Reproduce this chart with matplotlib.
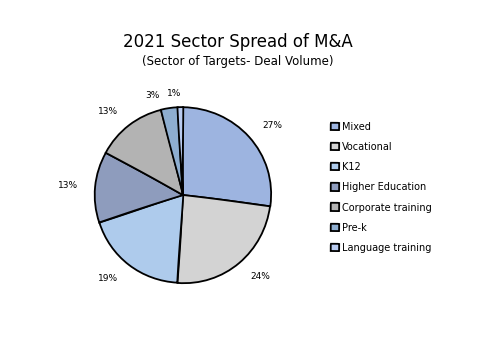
import matplotlib.pyplot as plt

sectors = ["Mixed", "Vocational", "K12", "Higher Education",
           "Corporate training", "Pre-k", "Language training"]
shares = [27, 24, 19, 13, 13, 3, 1]
colors = ["#9db4e0", "#d3d3d3", "#aecbec", "#8e9cbd", "#b3b3b3", "#8eaed0", "#b9cbf0"]

plt.xkcd(scale=0.3, length=150, randomness=1)
plt.rcParams['font.family'] = ['DejaVu Sans']
plt.rcParams['path.effects'] = []

fig = plt.figure(figsize=(5, 3.53), dpi=100)
ax = fig.add_axes([0.19, 0.198, 0.352, 0.4986])

wedges, texts = ax.pie(shares, colors=colors, startangle=90, counterclock=False,
                       labels=[f"{s}%" for s in shares], labeldistance=1.2,
                       wedgeprops=dict(edgecolor="black", linewidth=1.3),
                       textprops=dict(fontsize=6.5))
# small slices: spread the labels apart a little
x, y = texts[5].get_position()
texts[5].set_position((x - 0.08, y - 0.05))
x, y = texts[6].get_position()
texts[6].set_position((x + 0.02, y - 0.05))

ax.set_xlim(-1, 1)
ax.set_ylim(-1, 1)
ax.set_aspect('equal')

fig.text(0.475, 0.88, "2021 Sector Spread of M&A", ha='center', va='center', fontsize=12)
fig.text(0.475, 0.825, "(Sector of Targets- Deal Volume)", ha='center', va='center', fontsize=8.5)

fig.legend(wedges, sectors, loc='upper left', bbox_to_anchor=(0.645, 0.68),
           frameon=False, fontsize=7, handlelength=0.8, handleheight=0.8,
           handletextpad=0.3, labelspacing=1.05)

fig.savefig("out.png", dpi=100)
